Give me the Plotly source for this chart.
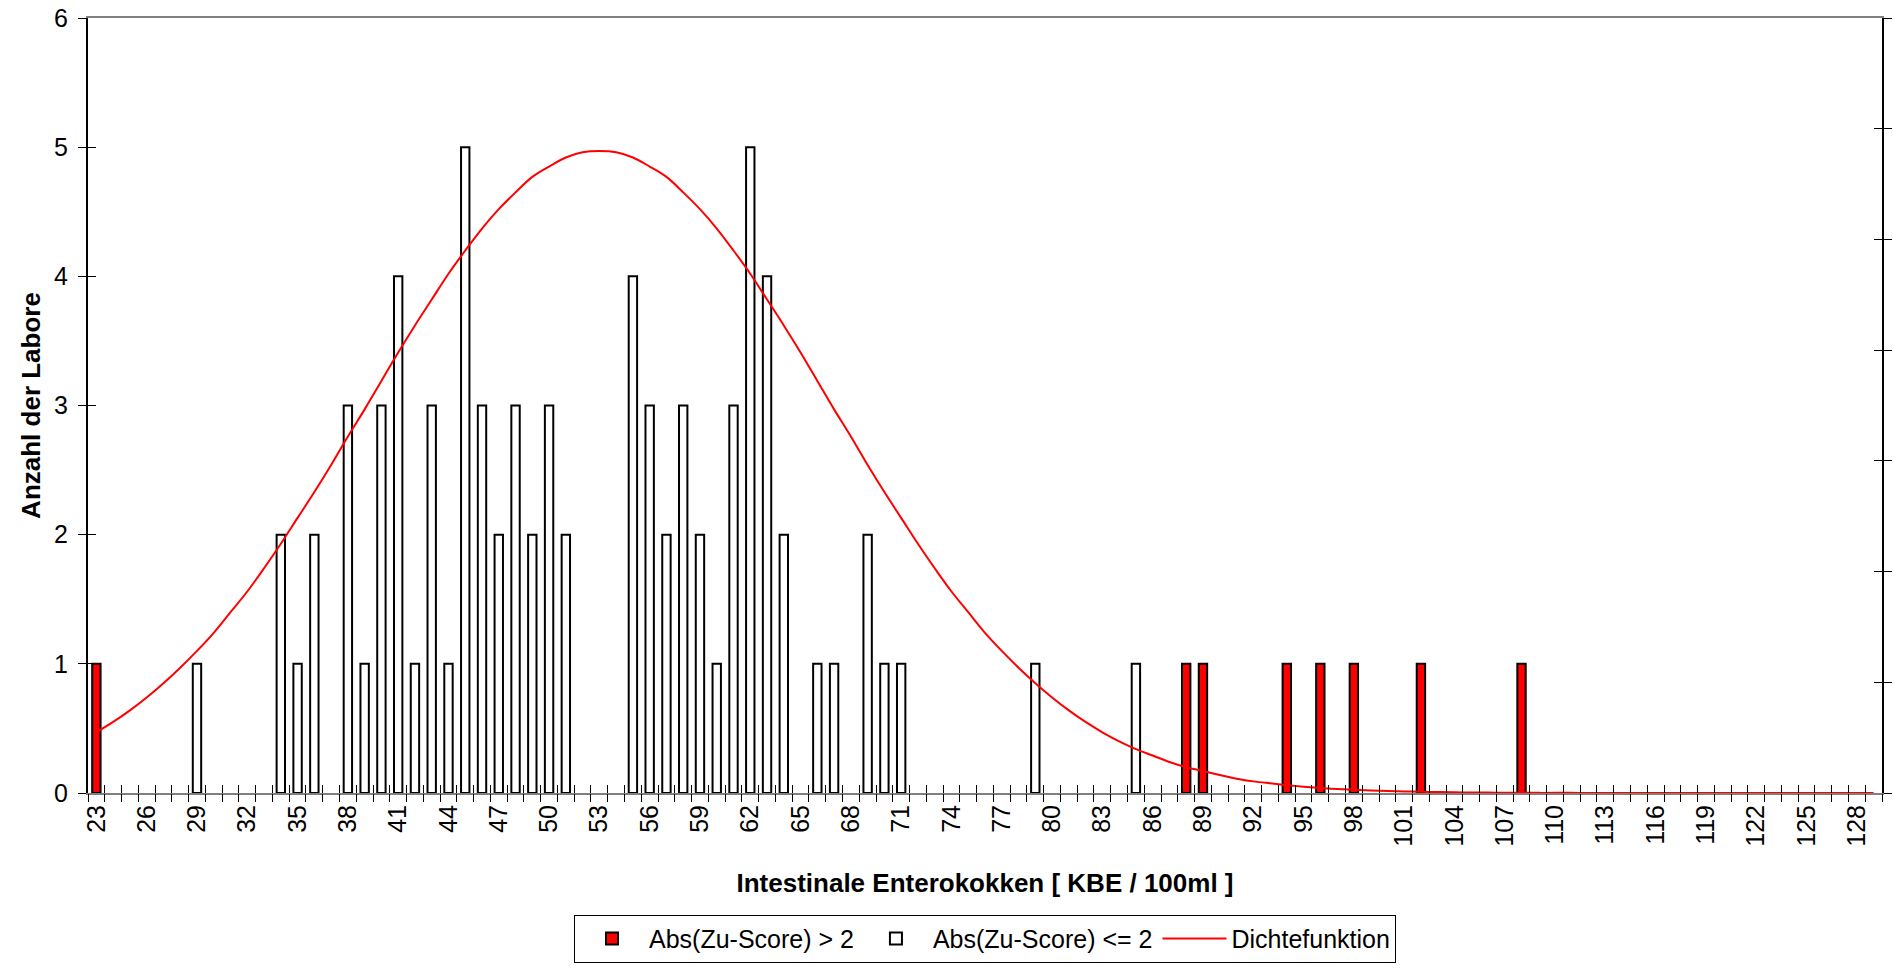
import plotly.graph_objects as go

# ---- data ----
tick_labels = [str(v) for v in range(23, 129, 3)]
tick_positions = list(range(23, 129, 3))
category_bounds = [c - 0.5 for c in range(23, 131)]

red_x = [23, 88, 89, 94, 96, 98, 102, 108]
red_n = [1, 1, 1, 1, 1, 1, 1, 1]

white_x = [29, 34, 35, 36, 38, 39, 40, 41, 42, 43, 44, 45, 46, 47, 48, 49, 50, 51,
           55, 56, 57, 58, 59, 60, 61, 62, 63, 64, 66, 67, 69, 70, 71, 79, 85]
white_n = [1, 2, 1, 2, 3, 1, 3, 4, 1, 3, 1, 5, 3, 2, 3, 2, 3, 2,
           4, 3, 2, 3, 2, 1, 3, 5, 4, 2, 1, 1, 2, 1, 1, 1, 1]

curve_x = list(range(23, 130))
curve_y = [0.47, 0.55, 0.64, 0.74, 0.85, 0.97, 1.10, 1.24, 1.40, 1.56,
           1.74, 1.93, 2.13, 2.33, 2.54, 2.76, 2.97, 3.19, 3.41, 3.62,
           3.82, 4.02, 4.20, 4.37, 4.52, 4.65, 4.77, 4.85, 4.92, 4.96,
           4.97, 4.96, 4.92, 4.85, 4.77, 4.65, 4.52, 4.37, 4.20, 4.02,
           3.82, 3.62, 3.41, 3.19, 2.97, 2.76, 2.54, 2.33, 2.13, 1.93,
           1.74, 1.56, 1.40, 1.24, 1.10, 0.97, 0.85, 0.74, 0.64, 0.55,
           0.47, 0.40, 0.34, 0.29, 0.24, 0.20, 0.17, 0.14, 0.11, 0.09,
           0.075, 0.061, 0.049, 0.039, 0.031, 0.025, 0.019, 0.015, 0.012, 0.009,
           0.007, 0.005, 0.004, 0.003, 0.002, 0.002, 0.001, 0.001, 0.001, 0.0,
           0.0, 0.0, 0.0, 0.0, 0.0, 0.0, 0.0, 0.0, 0.0, 0.0,
           0.0, 0.0, 0.0, 0.0, 0.0, 0.0, 0.0]

FONT = "Liberation Sans, Arial, sans-serif"
XR = [22.5, 129.5]

fig = go.Figure()
fig.add_trace(go.Bar(x=red_x, y=red_n, width=0.5, name="Abs(Zu-Score) > 2",
                     marker=dict(color="#FF0000", line=dict(color="black", width=2)),
                     xaxis="x", yaxis="y"))
fig.add_trace(go.Bar(x=white_x, y=white_n, width=0.5, name="Abs(Zu-Score) <= 2",
                     marker=dict(color="white", line=dict(color="black", width=2)),
                     xaxis="x", yaxis="y"))
fig.add_trace(go.Scatter(x=curve_x, y=curve_y, mode="lines", name="Dichtefunktion",
                         line=dict(color="#FF0000", width=2, shape="spline"),
                         xaxis="x", yaxis="y"))
# helper traces so the decorative tick axes are drawn
fig.add_trace(go.Scatter(x=[], y=[], showlegend=False, xaxis="x2", yaxis="y3", hoverinfo="skip"))
fig.add_trace(go.Scatter(x=[], y=[], showlegend=False, xaxis="x3", yaxis="y2", hoverinfo="skip"))
fig.add_trace(go.Scatter(x=[], y=[], showlegend=False, xaxis="x3", yaxis="y4", hoverinfo="skip"))

common = dict(automargin=False, showgrid=False, zeroline=False)

fig.update_layout(
    width=1894, height=969,
    paper_bgcolor="white", plot_bgcolor="white",
    margin=dict(l=88, r=12, t=18, b=176, autoexpand=False),
    barmode="overlay",
    font=dict(family=FONT, size=25, color="black"),
    showlegend=True,
    legend=dict(orientation="h", x=0.5, xanchor="center", y=-0.157, yanchor="top",
                bordercolor="black", borderwidth=1, font=dict(size=25),
                traceorder="normal", itemwidth=64, tracegroupgap=0),
    xaxis=dict(range=XR, tickmode="array", tickvals=tick_positions, ticktext=tick_labels,
               ticks="", tickangle=-90, ticklabeloverflow="allow",
               showline=True, linecolor="#808080", linewidth=2, mirror=True,
               tickfont=dict(size=25),
               title=dict(text="<b>Intestinale Enterokokken [ KBE / 100ml ]</b>",
                          font=dict(size=26), standoff=28), **common),
    xaxis2=dict(range=XR, overlaying="x", tickmode="array", tickvals=category_bounds,
                ticks="outside", ticklen=8, tickcolor="black", tickwidth=1,
                showticklabels=False, showline=False, **common),
    xaxis3=dict(range=XR, overlaying="x", tickmode="array", tickvals=category_bounds,
                ticks="inside", ticklen=8, tickcolor="black", tickwidth=1,
                showticklabels=False, showline=False, **common),
    yaxis=dict(range=[0, 6], tickmode="linear", tick0=0, dtick=1,
               ticks="outside", ticklen=8, tickcolor="black", tickwidth=1,
               showline=True, linecolor="black", linewidth=2,
               tickfont=dict(size=25), ticklabeloverflow="allow", ticklabelstandoff=5,
               title=dict(text="<b>Anzahl der Labore</b>", font=dict(size=26), standoff=6),
               **common),
    yaxis3=dict(range=[0, 6], overlaying="y", side="left", tickmode="linear", tick0=0, dtick=1,
                ticks="inside", ticklen=8, tickcolor="black", tickwidth=1,
                showticklabels=False, showline=False, **common),
    yaxis2=dict(range=[0, 7], overlaying="y", side="right", tickmode="linear", tick0=0, dtick=1,
                ticks="outside", ticklen=8, tickcolor="black", tickwidth=1,
                showticklabels=False,
                showline=True, linecolor="black", linewidth=2, **common),
    yaxis4=dict(range=[0, 7], overlaying="y", side="right", tickmode="linear", tick0=0, dtick=1,
                ticks="inside", ticklen=8, tickcolor="black", tickwidth=1,
                showticklabels=False, showline=False, **common),
)

# remove the browser's default 8px body margin so the figure fills the window exactly
fig.write_html("out.html",
               config={"displayModeBar": False},
               post_script="document.body.style.margin='0';document.body.style.overflow='hidden';")
